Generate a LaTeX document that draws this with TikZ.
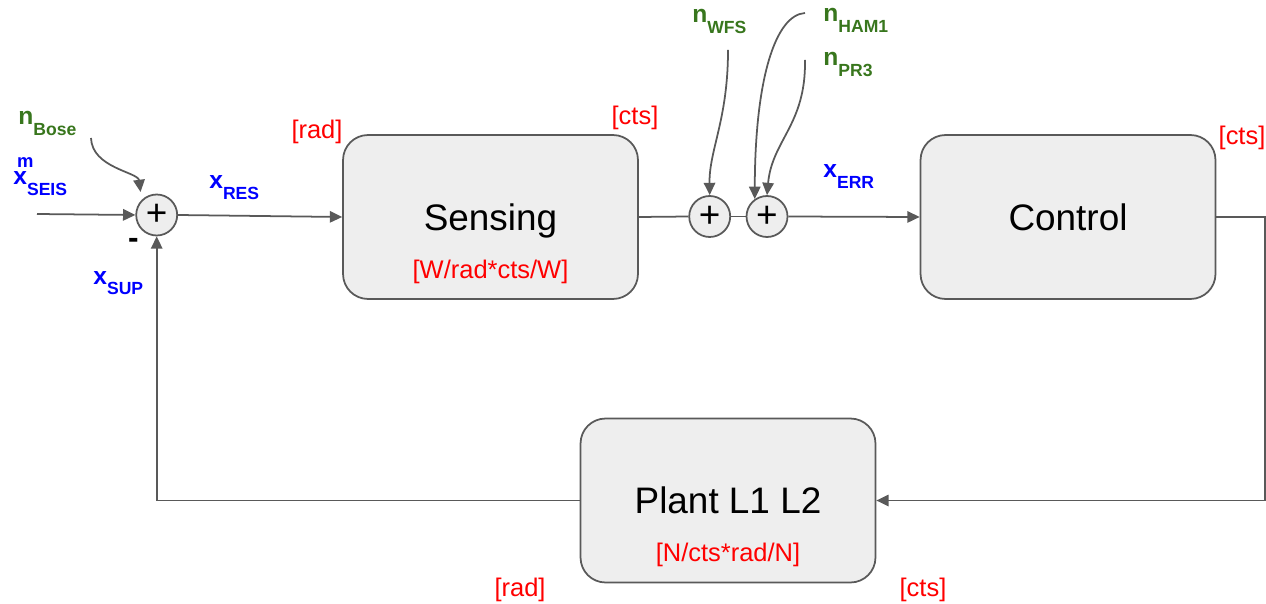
\documentclass[tikz,border=0pt]{standalone}
\usepackage{fontspec}
\setmainfont{Liberation Sans}
\usetikzlibrary{arrows.meta,positioning}

\definecolor{linegray}{HTML}{595959}
\definecolor{boxfill}{HTML}{EEEEEE}
\definecolor{noisegreen}{HTML}{38761D}
\definecolor{sigblue}{HTML}{0000FF}
\definecolor{unitred}{HTML}{FF0000}

\newcommand{\sigsub}[2]{#1\raisebox{-6pt}{\fontsize{10}{12}\selectfont #2}}
\newcommand{\sigsup}[1]{\rlap{\hspace{2.2pt}\raisebox{10.2pt}{\fontsize{10.5}{12}\selectfont #1}}}

\tikzset{
  block/.style={draw=linegray, fill=boxfill, line width=1pt, rounded corners=0.5cm,
    minimum width=5.9cm, minimum height=3.28cm, text depth=0pt,
    font=\fontsize{21}{25}\selectfont},
  sumnode/.style={circle, draw=linegray, fill=boxfill, line width=1pt,
    minimum size=0.82cm, inner sep=0pt, font=\fontsize{21}{25}\selectfont},
  sig/.style={anchor=base west, inner sep=0pt, text=sigblue,
    font=\bfseries\fontsize{14}{16}\selectfont},
  noise/.style={sig, text=noisegreen},
  unit/.style={inner sep=0pt, text=unitred, font=\fontsize{14.5}{17}\selectfont},
  wire/.style={draw=linegray, line width=1pt},
}

\begin{document}
\begin{tikzpicture}[x=0.02cm, y=-0.02cm, >={Triangle[length=7pt,width=6.5pt]}]
\useasboundingbox (0,0) rectangle (1266,604);

% blocks
\node[block] (sensing) at (490.5,217) {Sensing};
\node[block] (control) at (1068,217) {Control};
\node[block] (plant) at (728,500.5) {Plant L1 L2};
\node[unit, above=9pt of sensing.south] (sensunit) {[W/rad*cts/W]};
\node[unit, above=9pt of plant.south] (plantunit) {[N/cts*rad/N]};

% summing points
\node[sumnode] (sumA) at (156.7,215) {+};
\node[sumnode] (sumB) at (709.7,216.5) {+};
\node[sumnode] (sumC) at (767,216.5) {+};
\node[anchor=base, inner sep=0pt, font=\bfseries\fontsize{18}{20}\selectfont] (minus) at (133.5,249) {-};

% signal path
\coordinate (seisin) at (37,214);
\draw[wire,->] (seisin) -- (sumA.west);
\draw[wire,->] (sumA.east) -- (sensing.west);
\draw[wire] (sensing.east) -- (sumB.west);
\draw[wire] (sumB.east) -- (sumC.west);
\draw[wire,->] (sumC.east) -- (control.west);
\draw[wire,->] (control.east) -- ++(49,0) |- (plant.east);
\draw[wire,->] (plant.west) -| (sumA.south);

% noise inputs
\coordinate (bosetail) at (91,138);
\coordinate (wfstail) at (728,50);
\coordinate (hamtail) at (805,13);
\coordinate (prtail) at (805,60);
\draw[wire,->,shorten >=4.5pt] (bosetail) .. controls (92,168) and (138,172) .. (sumA.north west);
\draw[wire,->] (wfstail) .. controls (728,120) and (709,150) .. (sumB.north);
\draw[wire,->] (hamtail) .. controls (775,15) and (755,80) .. (sumC.125);
\draw[wire,->] (prtail) .. controls (806,125) and (772,140) .. (sumC.north);

% signal labels
\node[noise] (nbose) at (18,125) {\sigsub{n}{Bose}};
\node[sig] (xseis) at (13,185) {\sigsup{m}\sigsub{x}{SEIS}};
\node[sig] (xres) at (209,189) {\sigsub{x}{RES}};
\node[sig] (xsup) at (93,284) {\sigsub{x}{SUP}};
\node[sig] (xerr) at (823,178) {\sigsub{x}{ERR}};
\node[noise] (nwfs) at (692,23) {\sigsub{n}{WFS}};
\node[noise] (nham) at (823,22) {\sigsub{n}{HAM1}};
\node[noise] (npr) at (823,66) {\sigsub{n}{PR3}};

% units
\node[unit] (radtop) at (317,132) {[rad]};
\node[unit] (ctstop) at (635,118) {[cts]};
\node[unit] (ctsctrl) at (1242,138) {[cts]};
\node[unit] (radbot) at (520,590) {[rad]};
\node[unit] (ctsbot) at (923,590) {[cts]};

\end{tikzpicture}
\end{document}
